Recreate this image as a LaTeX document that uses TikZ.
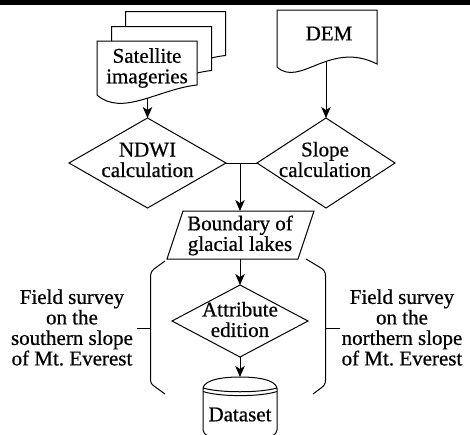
\documentclass[tikz,border=0pt]{standalone}
\usepackage{fontspec}
\setmainfont{Liberation Serif}[FakeBold=0.6]
\usetikzlibrary{arrows.meta,shapes.geometric}
\tikzset{
  ln/.style={line width=1pt, line join=miter},
  arr/.style={ln, -{Stealth[length=11pt,width=9.5pt,inset=3pt]}},
  txt/.style={align=center, inner sep=0pt, font=\fontsize{21}{20.5}\selectfont},
  dia/.style={ln, draw, diamond, inner sep=0pt, outer sep=0pt},
}
\begin{document}
\begin{tikzpicture}[x=1pt,y=-1pt]
\useasboundingbox (0,0) rectangle (470,434);
\fill[black] (0,0) rectangle (470,4.5);

% stacked documents
\foreach \dx/\dy in {125.5/11.5, 111.5/26.5, 97/41}{
  \begin{scope}[shift={(\dx,\dy)}]
    \draw[ln, fill=white] (0,0) -- (100,0) -- (100,44) .. controls (62,48) and (25,76) .. (0,54) -- cycle;
  \end{scope}
}
\node[txt] (sat) at (147,68) {Satellite\\imageries};
\coordinate (satb) at (147.5,98);

% DEM document
\draw[ln, fill=white] (277,10) -- (377,10) -- (377,64) .. controls (330,40) and (300,88) .. (277,67) -- cycle;
\node[txt] (dem) at (329,33.5) {DEM};
\coordinate (demb) at (326,62);

% diamonds
\node[dia, minimum width=157pt, minimum height=90pt] (ndwi) at (147.5,163) {};
\node[txt] (ndwitxt) at (147.5,160) {NDWI\\calculation};
\node[dia, minimum width=138pt, minimum height=90pt] (slope) at (326,163) {};
\node[txt] (slopetxt) at (325,159.5) {Slope\\calculation};

\draw[arr] (satb) -- (ndwi.north);
\draw[arr] (demb) -- (slope.north);
\draw[ln] (ndwi.east) -- (slope.west);
\coordinate (j) at (240,163);

% boundary parallelogram
\coordinate (bndtop) at (240,211);
\coordinate (bndbot) at (240,259);
\draw[ln] (183,211) -- (314,211) -- (298,259) -- (167,259) -- cycle;
\node[txt] (bnd) at (240,235.5) {Boundary of\\glacial lakes};
\draw[arr] (j) -- (bndtop);

% attribute diamond
\node[dia, minimum width=136pt, minimum height=72pt] (attr) at (240,321) {};
\node[txt] (attrtxt) at (240,319.5) {Attribute\\edition};
\draw[arr] (bndbot) -- (attr.north);

% dataset cylinder
\coordinate (cyltop) at (240,377);
\draw[ln] (203,388) .. controls (205,379) and (225,377) .. (240,377) .. controls (255,377) and (275,379) .. (277,388);
\draw[ln] (203,388) .. controls (220,393) and (260,393) .. (277,388);
\draw[ln] (203,391.5) .. controls (220,397) and (260,397) .. (277,391.5);
\draw[ln] (203,388) -- (203,430) .. controls (203,433) and (205,434) .. (208,436);
\draw[ln] (277,388) -- (277,430) .. controls (277,433) and (275,434) .. (272,436);
\node[txt] (data) at (240,414.5) {Dataset};
\draw[arr] (attr.south) -- (cyltop);

% brackets
\draw[ln] (165,261) -- (154,269) .. controls (151,271.5) and (150.5,274) .. (150.5,278) -- (150.5,378) .. controls (150.5,382) and (151,384) .. (154,386) -- (165,394);
\coordinate (ltick) at (137,328);
\coordinate (lbr) at (150.5,328);
\draw[ln] (ltick) -- (lbr);
\draw[ln] (306,259) -- (321,268) .. controls (324,270) and (325.5,272) .. (325.5,276) -- (325.5,380) .. controls (325.5,384) and (324,386) .. (321,388) -- (313,394);
\coordinate (rtick) at (340,328);
\coordinate (rbr) at (325.5,328);
\draw[ln] (rbr) -- (rtick);

\node[txt] (left) at (72,327.5) {Field survey\\on the\\southern slope\\of Mt.\ Everest};
\node[txt] (right) at (402,327.5) {Field survey\\on the\hspace*{24pt}\\northern slope\\of Mt.\ Everest};
\end{tikzpicture}
\end{document}
